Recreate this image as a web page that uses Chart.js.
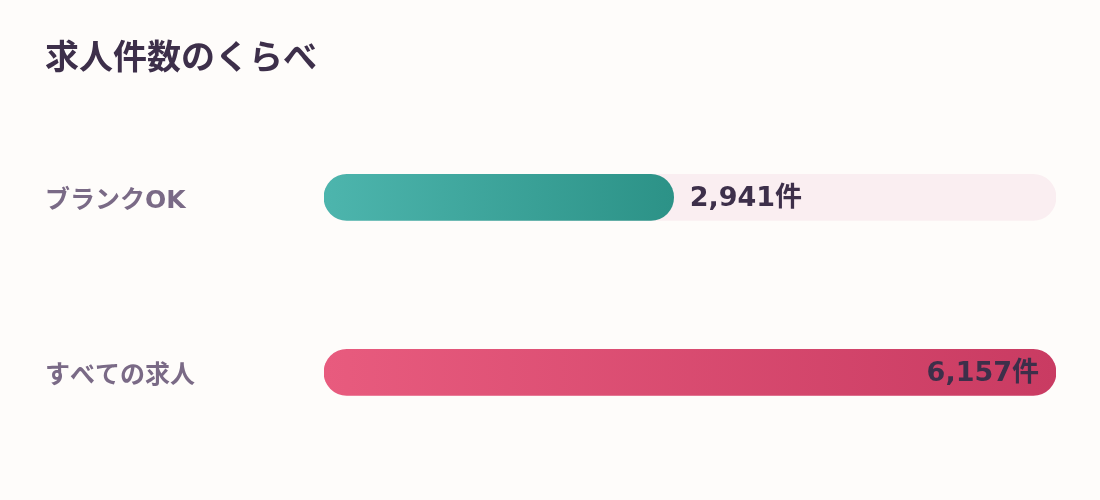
<!DOCTYPE html>
<html lang="ja">
<head>
<meta charset="utf-8">
<title>求人件数のくらべ</title>
<script src="https://cdn.jsdelivr.net/npm/chart.js@4.4.1/dist/chart.umd.min.js"></script>
<style>
  html, body { margin: 0; padding: 0; background: #fefcfa; }
  #wrap { width: 1100px; height: 500px; position: relative; }
</style>
</head>
<body>
<div id="wrap"><canvas id="chart"></canvas></div>
<script>
const chartTitle = '求人件数のくらべ';
const categories = ['ブランクOK', 'すべての求人'];
const jobCounts = [2941, 6157];
const unit = '件';

const fontFamily = '"DejaVu Sans", "Noto Sans CJK JP", sans-serif';
const barColors = [
    ['#4db5ad', '#2c9287'],
    ['#e85b7e', '#c93b62']
];
const maxCount = Math.max(...jobCounts);

// グラデーション（バーの左端から右端まで）
function barGradient(context) {
    const chart = context.chart;
    const area = chart.chartArea;
    if (!area) return barColors[context.dataIndex][0];
    const xEnd = chart.scales.x.getPixelForValue(jobCounts[context.dataIndex]);
    const g = chart.ctx.createLinearGradient(area.left, 0, xEnd, 0);
    g.addColorStop(0, barColors[context.dataIndex][0]);
    g.addColorStop(1, barColors[context.dataIndex][1]);
    return g;
}

// 件数ラベル
const valueLabels = {
    id: 'valueLabels',
    afterDatasetsDraw(chart) {
        const ctx = chart.ctx;
        const meta = chart.getDatasetMeta(1);
        const area = chart.chartArea;
        ctx.save();
        ctx.font = 'bold 27px ' + fontFamily;
        ctx.fillStyle = '#3d2f4a';
        ctx.textBaseline = 'middle';
        meta.data.forEach((bar, i) => {
            const text = jobCounts[i].toLocaleString('en-US') + unit;
            const w = ctx.measureText(text).width;
            if (bar.x + 16 + w <= area.right - 10) {
                ctx.textAlign = 'left';
                ctx.fillText(text, bar.x + 16, bar.y + 2);
            } else {
                ctx.textAlign = 'right';
                ctx.fillText(text, bar.x - 17, bar.y + 2);
            }
        });
        ctx.restore();
    }
};

new Chart(document.getElementById('chart'), {
    type: 'bar',
    data: {
        labels: categories,
        datasets: [
            {
                // 背景トラック
                data: categories.map(() => maxCount),
                backgroundColor: '#faeef1',
                borderRadius: 23,
                borderSkipped: false,
                barThickness: 46,
                grouped: false,
                order: 2
            },
            {
                data: jobCounts,
                backgroundColor: barGradient,
                borderRadius: 23,
                borderSkipped: false,
                barThickness: 46,
                grouped: false,
                order: 1
            }
        ]
    },
    options: {
        indexAxis: 'y',
        responsive: true,
        maintainAspectRatio: false,
        animation: false,
        layout: {
            padding: { top: 40, left: 45, right: 44, bottom: 40 }
        },
        scales: {
            x: {
                display: false,
                min: 0,
                max: maxCount
            },
            y: {
                grid: { display: false },
                border: { display: false },
                afterFit(axis) { axis.width = 279; },
                ticks: {
                    crossAlign: 'far',
                    color: '#7a6a86',
                    padding: 0,
                    labelOffset: 4,
                    font: { family: fontFamily, size: 25, weight: 'bold' }
                }
            }
        },
        plugins: {
            legend: { display: false },
            tooltip: { enabled: false },
            title: {
                display: true,
                text: chartTitle,
                align: 'start',
                color: '#3d2f4a',
                font: { family: fontFamily, size: 34, weight: 'bold', lineHeight: 1.2 },
                padding: { top: 0, bottom: 29 }
            }
        }
    },
    plugins: [valueLabels]
});
</script>
</body>
</html>
